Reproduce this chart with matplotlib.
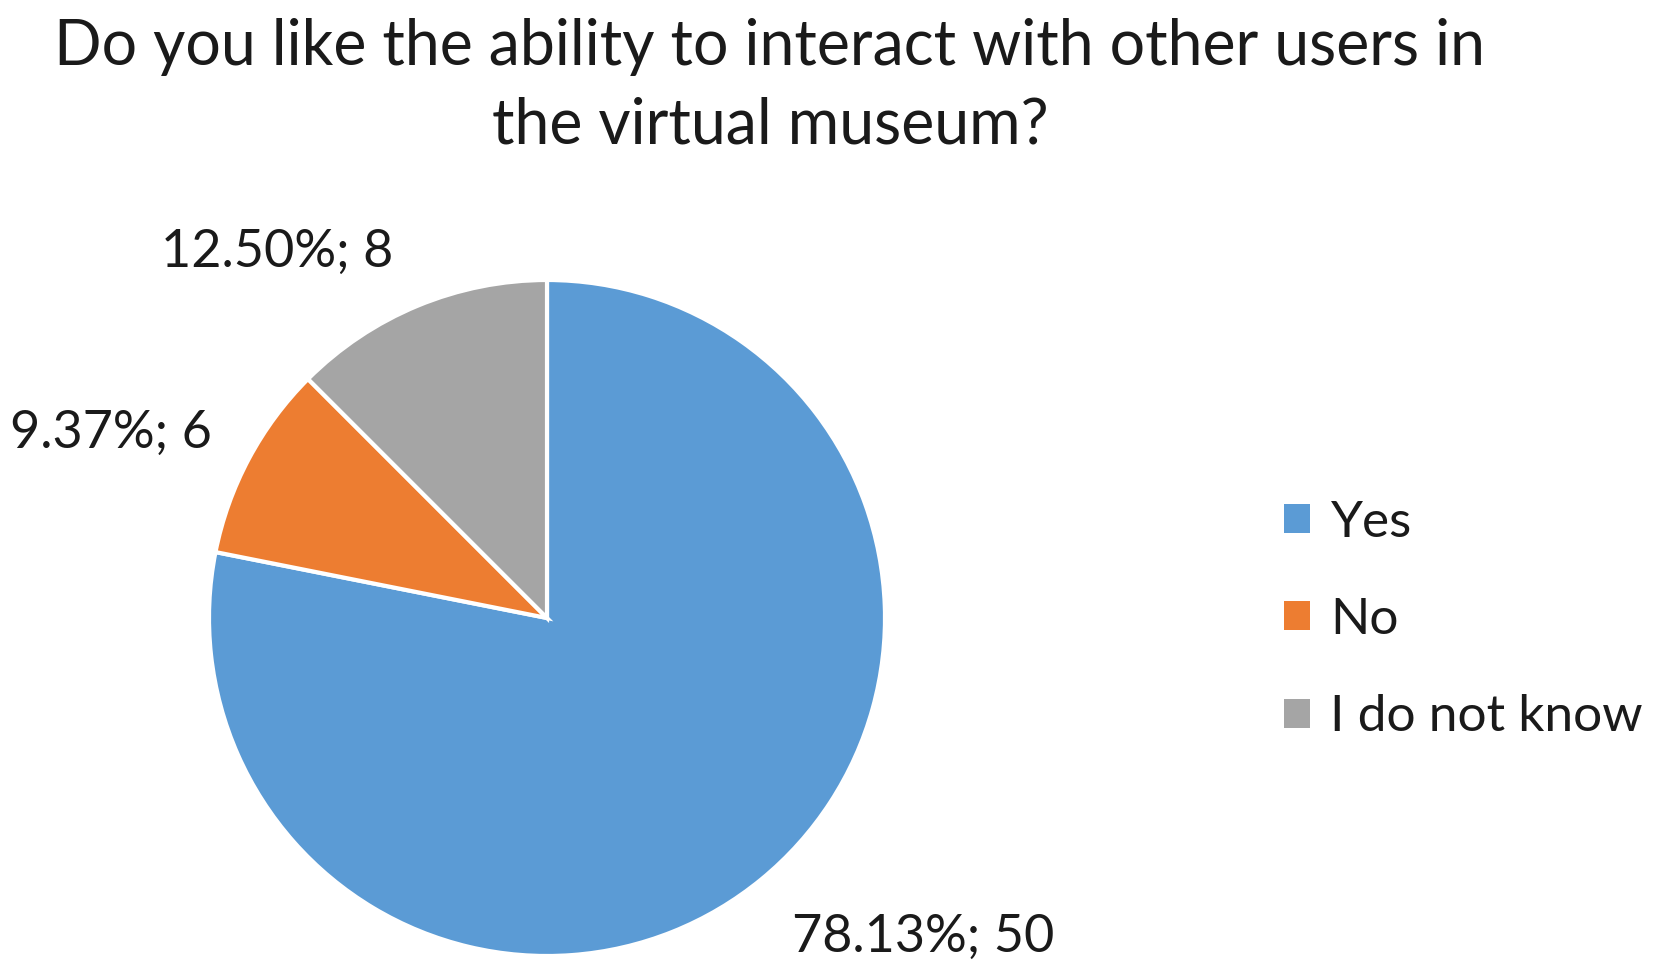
import matplotlib.pyplot as plt
from matplotlib.patches import Patch

# data
categories = ['Yes', 'No', 'I do not know']
counts = [50, 6, 8]
percents = ['78.13%', '9.37%', '12.50%']
colors = ['#5B9BD5', '#ED7D31', '#A5A5A5']

plt.rcParams['font.family'] = ['Lato', 'DejaVu Sans']

W, H = 1664, 973
fig = plt.figure(figsize=(W / 100, H / 100), dpi=100)
ax = fig.add_axes([0, 0, 1, 1])

# pie in pixel space (y axis inverted, so counterclock=True runs clockwise on screen)
cx, cy, r = 547, 618, 338
ax.pie(counts, colors=colors, startangle=-90, counterclock=True,
       center=(cx, cy), radius=r, frame=True,
       wedgeprops=dict(edgecolor='white', linewidth=3))
ax.set_xlim(0, W)
ax.set_ylim(H, 0)
ax.set_aspect('auto')
ax.axis('off')

# data labels, offsets from pie centre
label_off = [(376, 319), (-436, -185), (-270, -366)]
for (dx, dy), p, n in zip(label_off, percents, counts):
    ax.text(cx + dx, cy + dy, f'{p}; {n}', ha='center', va='center',
            fontsize=37.5, color='#1a1a1a')

# title
ax.text(770, 47, 'Do you like the ability to interact with other users in',
        ha='center', va='center', fontsize=45, color='#1a1a1a')
ax.text(770, 125, 'the virtual museum?',
        ha='center', va='center', fontsize=45, color='#1a1a1a')

# legend
handles = [Patch(facecolor=c, edgecolor='none', label=l) for c, l in zip(colors, categories)]
fig.legend(handles=handles, loc='center left', bbox_to_anchor=(1238 / W, 1 - 620 / H),
           frameon=False, fontsize=37, handlelength=0.5, handleheight=0.5,
           handletextpad=0.4, labelspacing=1.0, labelcolor='#1a1a1a')

fig.savefig('out.png', dpi=100)
